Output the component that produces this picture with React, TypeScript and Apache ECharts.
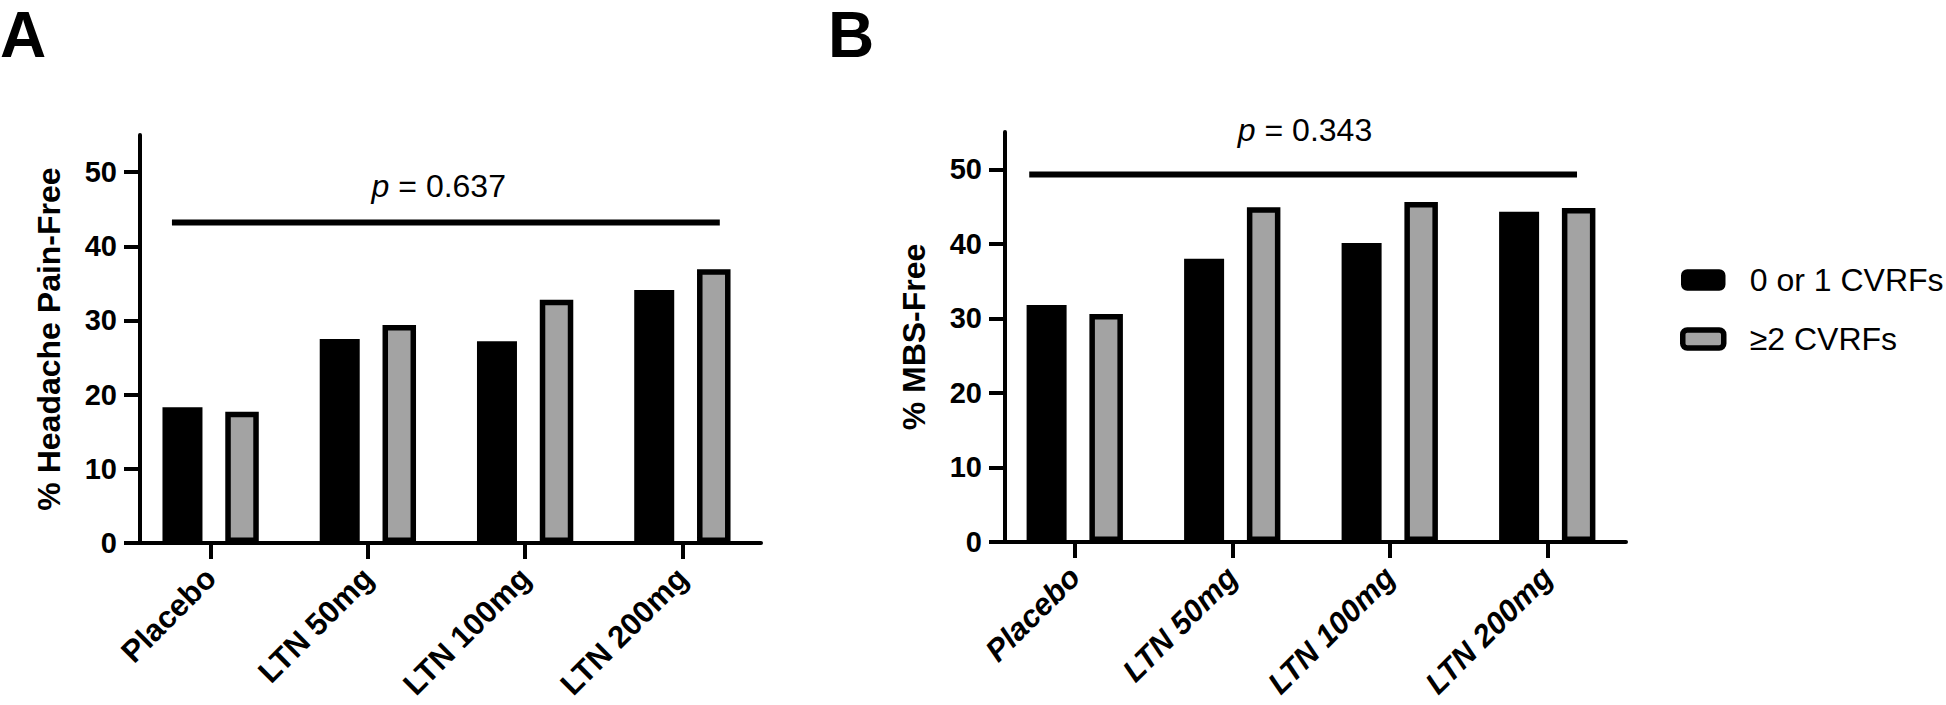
import React, { useEffect, useRef } from 'react';
import * as echarts from 'echarts';

const FONT = '"Liberation Sans", Arial, Helvetica, sans-serif';

const categories = ['Placebo', 'LTN 50mg', 'LTN 100mg', 'LTN 200mg'];
const seriesNames = ['0 or 1 CVRFs', '≥2 CVRFs'];
const panelLabels = ['A', 'B'];
const yAxisNames = ['% Headache Pain-Free', '% MBS-Free'];
const yTicks = [0, 10, 20, 30, 40, 50];
const yMax = 55;

// Panel A: headache pain-free (%)
const headacheLow = [18.3, 27.5, 27.2, 34.1];
const headacheHigh = [17.7, 29.4, 32.8, 36.9];
// Panel B: MBS-free (%)
const mbsLow = [31.8, 38.0, 40.1, 44.3];
const mbsHigh = [30.6, 44.9, 45.6, 44.8];

const pValues = ['0.637', '0.343'];
const pLineValues = [43.2, 49.3];
// p-line span in category units (0 = first category centre)
const pLineSpan = [[-0.246, 3.238], [-0.289, 3.189]];
const pTextCentre = [1.451, 1.462];
const pTextRaise = [37, 44];

const panelData = [
  [headacheLow, headacheHigh],
  [mbsLow, mbsHigh],
];

const grids = [
  { left: 132, top: 135, width: 629, height: 408, outerBoundsMode: 'none', containLabel: false },
  { left: 996, top: 132, width: 630, height: 410, outerBoundsMode: 'none', containLabel: false },
];
const yOffsets = [-8, -9];
const panelLabelLeft = [0, 828];

export default function App() {
  const ref = useRef<HTMLDivElement>(null);

  useEffect(() => {
    if (!ref.current) return;
    const chart = echarts.init(ref.current, undefined, { renderer: 'svg' });

    const xAxis = [0, 1].map((i) => ({
      type: 'category',
      gridIndex: i,
      data: categories,
      boundaryGap: true,
      axisLine: { show: true, lineStyle: { color: '#000', width: 4 } },
      axisTick: { show: true, alignWithLabel: true, length: 16, lineStyle: { color: '#000', width: 4 } },
      axisLabel: {
        rotate: 45,
        fontSize: 31,
        fontWeight: 'bold',
        fontStyle: i === 1 ? 'italic' : 'normal',
        fontFamily: FONT,
        color: '#000',
        margin: 30,
        interval: 0,
      },
      splitLine: { show: false },
    }));

    const yAxis = [0, 1].map((i) => ({
      type: 'value',
      gridIndex: i,
      min: 0,
      max: yMax,
      interval: 10,
      offset: yOffsets[i],
      name: yAxisNames[i],
      nameLocation: 'middle',
      nameGap: 75,
      nameTextStyle: { fontSize: 32, fontWeight: 'bold', fontFamily: FONT, color: '#000' },
      axisLine: { show: true, lineStyle: { color: '#000', width: 4 } },
      axisTick: { show: true, length: 16, lineStyle: { color: '#000', width: 4 }, customValues: yTicks },
      axisLabel: {
        fontSize: 29,
        fontWeight: 'bold',
        fontFamily: FONT,
        color: '#000',
        margin: 23,
        customValues: yTicks,
      },
      splitLine: { show: false },
    }));

    const series: any[] = [];
    [0, 1].forEach((i) => {
      series.push({
        type: 'bar',
        name: seriesNames[0],
        xAxisIndex: i,
        yAxisIndex: i,
        data: panelData[i][0],
        barWidth: 40,
        barGap: '57%',
        itemStyle: { color: '#000' },
      });
      series.push({
        type: 'bar',
        name: seriesNames[1],
        xAxisIndex: i,
        yAxisIndex: i,
        data: panelData[i][1],
        barWidth: 33.5,
        barGap: '57%',
        itemStyle: { color: '#a3a3a3', borderColor: '#000', borderWidth: 5.5 },
      });
    });

    chart.setOption({
      animation: false,
      backgroundColor: '#fff',
      title: panelLabels.map((t, i) => ({
        text: t,
        left: panelLabelLeft[i],
        top: 3,
        padding: 0,
        textStyle: { fontSize: 64, lineHeight: 64, fontWeight: 'bold', fontFamily: FONT, color: '#000' },
      })),
      legend: {
        orient: 'vertical',
        left: 1675,
        top: 259,
        itemWidth: 41,
        itemHeight: 18,
        itemGap: 27,
        textStyle: { fontSize: 32, fontFamily: FONT, color: '#000', padding: [0, 0, 0, 21] },
        data: [
          { name: seriesNames[0], itemStyle: { color: '#000', borderColor: '#000', borderWidth: 3.5 } },
          { name: seriesNames[1], itemStyle: { color: '#a3a3a3', borderColor: '#000', borderWidth: 5.5 } },
        ],
      },
      grid: grids,
      xAxis,
      yAxis,
      series,
    });

    const graphic: any[] = [];
    [0, 1].forEach((i) => {
      const x0 = chart.convertToPixel({ xAxisIndex: i }, 0) as number;
      const x1 = chart.convertToPixel({ xAxisIndex: i }, 1) as number;
      const band = x1 - x0;
      const y = chart.convertToPixel({ yAxisIndex: i }, pLineValues[i]) as number;
      graphic.push({
        type: 'line',
        shape: { x1: x0 + pLineSpan[i][0] * band, y1: y, x2: x0 + pLineSpan[i][1] * band, y2: y },
        style: { stroke: '#000', lineWidth: 6 },
      });
      graphic.push({
        type: 'text',
        x: x0 + pTextCentre[i] * band,
        y: y - pTextRaise[i],
        style: {
          text: '{i|p} = ' + pValues[i],
          fontSize: 32,
          fontFamily: FONT,
          fill: '#000',
          align: 'center',
          verticalAlign: 'middle',
          rich: { i: { fontStyle: 'italic', fontSize: 32, fontFamily: FONT, fill: '#000' } },
        },
      });
    });
    chart.setOption({ graphic });

    return () => chart.dispose();
  }, []);

  return (
    <div
      ref={ref}
      style={{ position: 'fixed', left: 0, top: 0, width: 1946, height: 705, background: '#fff' }}
    />
  );
}
